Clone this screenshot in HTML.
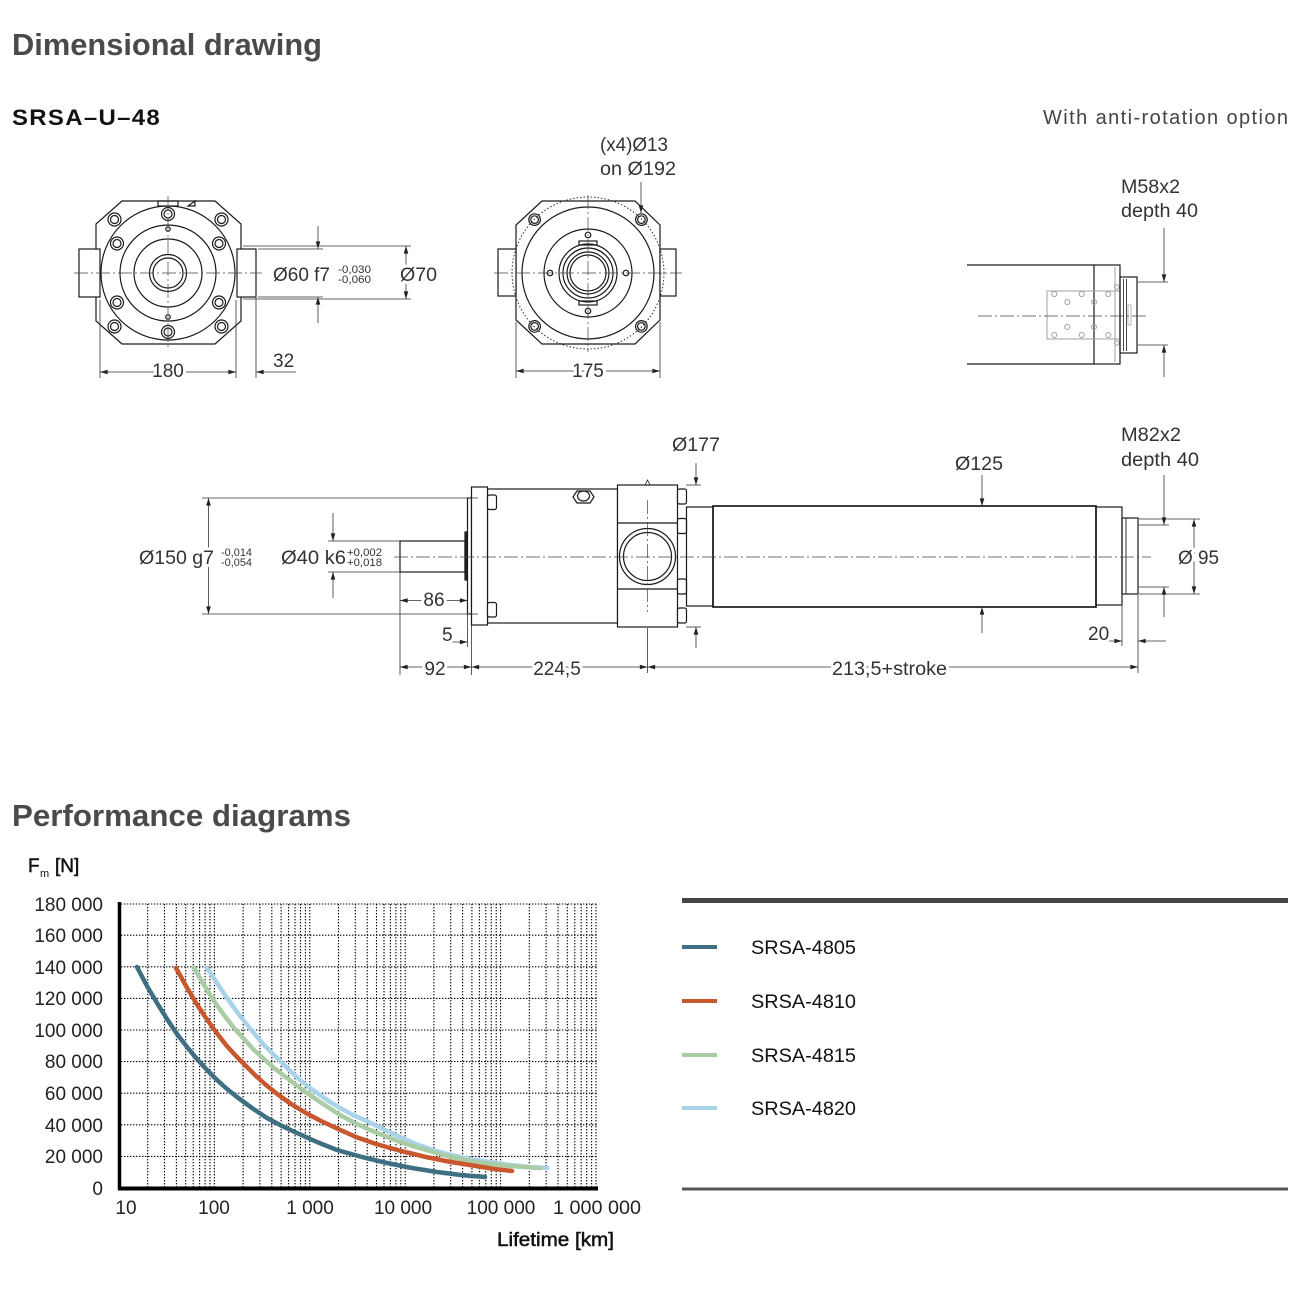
<!DOCTYPE html>
<html><head><meta charset="utf-8">
<style>
html,body{margin:0;padding:0;background:#fff;}
svg{display:block;}
text{font-family:"Liberation Sans",Arial,sans-serif;}
</style></head><body>
<svg width="1310" height="1291" viewBox="0 0 1310 1291" xmlns="http://www.w3.org/2000/svg">
<defs>
<marker id="ar" viewBox="0 0 10 6" refX="10" refY="3" markerWidth="8" markerHeight="4.6" markerUnits="userSpaceOnUse" orient="auto-start-reverse"><path d="M0,0L10,3L0,6z" fill="#222"/></marker>
<g id="dec" stroke="#000" stroke-width="1.1" stroke-dasharray="1.4 1.6" fill="none">
<line x1="147.7" y1="904" x2="147.7" y2="1188"/>
<line x1="164.5" y1="904" x2="164.5" y2="1188"/>
<line x1="176.4" y1="904" x2="176.4" y2="1188"/>
<line x1="185.7" y1="904" x2="185.7" y2="1188"/>
<line x1="193.2" y1="904" x2="193.2" y2="1188"/>
<line x1="199.6" y1="904" x2="199.6" y2="1188"/>
<line x1="205.1" y1="904" x2="205.1" y2="1188"/>
<line x1="210" y1="904" x2="210" y2="1188"/>
<line x1="214.4" y1="904" x2="214.4" y2="1188"/>
</g>
</defs>

<!-- Headings -->
<text x="12" y="55" font-size="31" font-weight="bold" fill="#4a4a4a" textLength="310" lengthAdjust="spacingAndGlyphs">Dimensional drawing</text>
<text x="12" y="125" font-size="22" font-weight="bold" fill="#111" letter-spacing="1.2" textLength="149" lengthAdjust="spacingAndGlyphs">SRSA–U–48</text>
<text x="1043" y="124" font-size="20" fill="#444" textLength="245" lengthAdjust="spacing">With anti-rotation option</text>
<text x="12" y="826" font-size="31" font-weight="bold" fill="#4a4a4a" textLength="339" lengthAdjust="spacingAndGlyphs">Performance diagrams</text>

<!-- ================= VIEW 1 ================= -->
<g fill="none" stroke="#1a1a1a" stroke-width="1.2">
<polygon points="122,201 215,201 241,224 241,321 215,344 122,344 96,321 96,224" fill="#fff"/>
<rect x="79" y="249" width="21" height="48" fill="#fff"/>
<rect x="237" y="249" width="19" height="48" fill="#fff"/>
<rect x="158" y="201" width="20" height="5"/>
<polygon points="188,206 195,201 195,206"/>
<circle cx="168" cy="273" r="67"/>
<circle cx="168" cy="273" r="48"/>
<circle cx="168" cy="273" r="34"/>
<circle cx="168" cy="273" r="18.5"/>
<circle cx="168" cy="273" r="15"/>
<g fill="#fff">
<circle cx="168" cy="214" r="6.5"/><circle cx="168" cy="332" r="6.5"/>
<circle cx="117" cy="243.5" r="6.5"/><circle cx="219" cy="243.5" r="6.5"/>
<circle cx="117" cy="302.5" r="6.5"/><circle cx="219" cy="302.5" r="6.5"/>
<circle cx="114.5" cy="219.5" r="6.5"/><circle cx="221.5" cy="219.5" r="6.5"/>
<circle cx="114.5" cy="326.5" r="6.5"/><circle cx="221.5" cy="326.5" r="6.5"/>
</g>
<circle cx="168" cy="214" r="4"/><circle cx="168" cy="332" r="4"/>
<circle cx="117" cy="243.5" r="4"/><circle cx="219" cy="243.5" r="4"/>
<circle cx="117" cy="302.5" r="4"/><circle cx="219" cy="302.5" r="4"/>
<circle cx="114.5" cy="219.5" r="4"/><circle cx="221.5" cy="219.5" r="4"/>
<circle cx="114.5" cy="326.5" r="4"/><circle cx="221.5" cy="326.5" r="4"/>
<circle cx="168" cy="229" r="2.3"/><circle cx="168" cy="317" r="2.3"/>
</g>

<!-- ================= VIEW 2 ================= -->
<g fill="none" stroke="#1a1a1a" stroke-width="1.2">
<polygon points="542,201 635,201 660,225 660,320 635,344 542,344 516,320 516,225" fill="#fff"/>
<rect x="498" y="249" width="18" height="47" fill="#fff"/>
<rect x="660" y="249" width="16" height="47" fill="#fff"/>
<circle cx="588" cy="273" r="76" stroke-width="0.9" stroke-dasharray="1.5 2"/>
<circle cx="588" cy="273" r="66"/>
<circle cx="588" cy="273" r="44"/>
<circle cx="588" cy="273" r="29"/>
<rect x="579" y="241" width="18" height="4"/>
<rect x="579" y="301" width="18" height="4"/>
<circle cx="588" cy="273" r="25"/>
<circle cx="588" cy="273" r="21"/>
<circle cx="588" cy="273" r="18"/>
<circle cx="588" cy="235" r="2.8"/><circle cx="550" cy="273" r="2.8"/>
<circle cx="626" cy="273" r="2.8"/><circle cx="588" cy="311" r="2.8"/>
<circle cx="534.6" cy="219.6" r="5.8"/><circle cx="641.4" cy="219.6" r="5.8"/>
<circle cx="534.6" cy="326.4" r="5.8"/><circle cx="641.4" cy="326.4" r="5.8"/>
<circle cx="534.6" cy="219.6" r="3.8"/><circle cx="641.4" cy="219.6" r="3.8"/>
<circle cx="534.6" cy="326.4" r="3.8"/><circle cx="641.4" cy="326.4" r="3.8"/>
</g>

<!-- ================= VIEW 3 ================= -->
<g fill="none" stroke="#1a1a1a" stroke-width="1.2">
<line x1="967" y1="265" x2="1094" y2="265"/>
<line x1="967" y1="364" x2="1094" y2="364"/>
<rect x="1094" y="265" width="26" height="99"/>
<line x1="1115" y1="267" x2="1115" y2="362" stroke="#999" stroke-width="0.9"/>
<rect x="1047" y="291" width="73" height="48" stroke="#a0a0a0" stroke-width="1"/>
<g stroke="#a0a0a0" stroke-width="1">
<circle cx="1054.3" cy="294" r="2.5"/><circle cx="1081.7" cy="294" r="2.5"/><circle cx="1108.3" cy="294" r="2.5"/>
<circle cx="1067.3" cy="302" r="2.5"/><circle cx="1094" cy="302" r="2.5"/>
<circle cx="1067.3" cy="327" r="2.5"/><circle cx="1094" cy="327" r="2.5"/>
<circle cx="1054.3" cy="335" r="2.5"/><circle cx="1081.7" cy="335" r="2.5"/><circle cx="1108.3" cy="335" r="2.5"/>
<circle cx="1116.7" cy="287" r="2.3"/><circle cx="1116.7" cy="343" r="2.3"/>
</g>
<rect x="1120" y="277" width="17" height="76"/>
<line x1="1123.5" y1="279" x2="1123.5" y2="351" stroke-width="0.8"/>
<line x1="1126.5" y1="279" x2="1126.5" y2="351" stroke-width="0.8"/>
<rect x="1128" y="305" width="3" height="20" stroke="#999" stroke-width="0.7"/>
</g>

<!-- ================= SIDE VIEW ================= -->
<g fill="none" stroke="#1a1a1a" stroke-width="1.2">
<rect x="400" y="541" width="65" height="31" fill="#fff"/>
<rect x="465" y="532" width="2.5" height="48" fill="#222"/>
<rect x="467.5" y="498" width="4" height="116" fill="#fff"/>
<rect x="487.5" y="489" width="130" height="134" fill="#fff"/>
<rect x="471.5" y="487" width="16" height="138" fill="#fff"/>
<rect x="487.5" y="495" width="9" height="14.5" rx="2" fill="#fff"/>
<rect x="487.5" y="602.5" width="9" height="14.5" rx="2" fill="#fff"/>
<path d="M573,497 L577,491 L590,491 L594,497 L590,503 L577,503Z" fill="#fff"/>
<ellipse cx="583.5" cy="496" rx="6" ry="5"/>
<rect x="617.5" y="485" width="60" height="142" fill="#fff"/>
<line x1="617.5" y1="523" x2="677.5" y2="523"/>
<line x1="617.5" y1="589" x2="677.5" y2="589"/>
<circle cx="647.5" cy="556.5" r="28"/>
<circle cx="647.5" cy="556.5" r="24"/>
<path d="M645,485 L647.5,480 L650,485" stroke-width="0.8"/>
<rect x="677.5" y="489" width="9" height="15" rx="2" fill="#fff"/>
<rect x="677.5" y="518.5" width="9" height="15" rx="2" fill="#fff"/>
<rect x="677.5" y="579" width="9" height="15" rx="2" fill="#fff"/>
<rect x="677.5" y="608" width="9" height="15" rx="2" fill="#fff"/>
<rect x="686.5" y="507" width="26.5" height="99"/>
<rect x="713" y="506" width="383" height="101" stroke-width="1.7"/>
<rect x="1096" y="507" width="26" height="98"/>
<rect x="1122" y="518" width="16" height="76"/>
<line x1="1126" y1="518" x2="1126" y2="594" stroke-width="0.9"/>
</g>

<!-- Centerlines -->
<g stroke="#444" stroke-width="0.7" stroke-dasharray="14 3 2 3" fill="none">
<line x1="74" y1="273" x2="262" y2="273"/>
<line x1="168" y1="196" x2="168" y2="350"/>
<line x1="494" y1="273" x2="682" y2="273"/>
<line x1="588" y1="195" x2="588" y2="352"/>
<line x1="978" y1="316" x2="1147" y2="316"/>
<line x1="394" y1="557" x2="1151" y2="557"/>
<line x1="647.5" y1="500" x2="647.5" y2="612"/>
</g>

<!-- Dimension lines -->
<g stroke="#333" stroke-width="0.8" fill="none">
<line x1="100" y1="300" x2="100" y2="378"/>
<line x1="236" y1="300" x2="236" y2="378"/>
<line x1="100" y1="372" x2="236" y2="372" marker-start="url(#ar)" marker-end="url(#ar)"/>
<line x1="256" y1="298" x2="256" y2="378"/>
<line x1="296" y1="372" x2="256" y2="372" marker-end="url(#ar)"/>
<line x1="258" y1="249" x2="323" y2="249"/>
<line x1="258" y1="297" x2="323" y2="297"/>
<line x1="318" y1="226" x2="318" y2="249" marker-end="url(#ar)"/>
<line x1="318" y1="323" x2="318" y2="297" marker-end="url(#ar)"/>
<line x1="243" y1="246" x2="411" y2="246"/>
<line x1="243" y1="299" x2="411" y2="299"/>
<line x1="406" y1="273" x2="406" y2="246" marker-end="url(#ar)"/>
<line x1="406" y1="273" x2="406" y2="299" marker-end="url(#ar)"/>
<line x1="516" y1="322" x2="516" y2="378"/>
<line x1="660" y1="322" x2="660" y2="378"/>
<line x1="516" y1="371" x2="660" y2="371" marker-start="url(#ar)" marker-end="url(#ar)"/>
<line x1="641" y1="182" x2="641" y2="213" marker-end="url(#ar)"/>
<line x1="1138" y1="282" x2="1168" y2="282"/>
<line x1="1138" y1="345" x2="1168" y2="345"/>
<line x1="1164" y1="228" x2="1164" y2="282" marker-end="url(#ar)"/>
<line x1="1164" y1="377" x2="1164" y2="345" marker-end="url(#ar)"/>
<line x1="202" y1="498" x2="478" y2="498"/>
<line x1="202" y1="614" x2="478" y2="614"/>
<line x1="208.5" y1="556" x2="208.5" y2="498" marker-end="url(#ar)"/>
<line x1="208.5" y1="556" x2="208.5" y2="614" marker-end="url(#ar)"/>
<line x1="328" y1="541" x2="400" y2="541"/>
<line x1="328" y1="572" x2="400" y2="572"/>
<line x1="333" y1="513" x2="333" y2="541" marker-end="url(#ar)"/>
<line x1="333" y1="598" x2="333" y2="572" marker-end="url(#ar)"/>
<line x1="400" y1="572" x2="400" y2="675"/>
<line x1="400" y1="600.5" x2="467.5" y2="600.5" marker-start="url(#ar)" marker-end="url(#ar)"/>
<line x1="467.5" y1="614" x2="467.5" y2="647"/>
<line x1="442" y1="642" x2="467.5" y2="642" marker-end="url(#ar)"/>
<line x1="471.5" y1="625" x2="471.5" y2="675"/>
<line x1="400" y1="667" x2="471.5" y2="667" marker-start="url(#ar)" marker-end="url(#ar)"/>
<line x1="471.5" y1="667" x2="647.5" y2="667" marker-start="url(#ar)" marker-end="url(#ar)"/>
<line x1="647.5" y1="628" x2="647.5" y2="673"/>
<line x1="647.5" y1="667" x2="1138" y2="667" marker-start="url(#ar)" marker-end="url(#ar)"/>
<line x1="686" y1="485" x2="701" y2="485"/>
<line x1="696" y1="463" x2="696" y2="485" marker-end="url(#ar)"/>
<line x1="686" y1="627" x2="701" y2="627"/>
<line x1="696" y1="648" x2="696" y2="627" marker-end="url(#ar)"/>
<line x1="982" y1="475" x2="982" y2="506" marker-end="url(#ar)"/>
<line x1="982" y1="633" x2="982" y2="607" marker-end="url(#ar)"/>
<line x1="1139" y1="519" x2="1200" y2="519"/>
<line x1="1139" y1="594" x2="1200" y2="594"/>
<line x1="1194" y1="557" x2="1194" y2="519" marker-end="url(#ar)"/>
<line x1="1194" y1="557" x2="1194" y2="594" marker-end="url(#ar)"/>
<line x1="1139" y1="525" x2="1169" y2="525"/>
<line x1="1139" y1="587" x2="1169" y2="587"/>
<line x1="1164" y1="475" x2="1164" y2="525" marker-end="url(#ar)"/>
<line x1="1164" y1="617" x2="1164" y2="587" marker-end="url(#ar)"/>
<line x1="1087" y1="641" x2="1122" y2="641" marker-end="url(#ar)"/>
<line x1="1122" y1="606" x2="1122" y2="646"/>
<line x1="1166" y1="641" x2="1138" y2="641" marker-end="url(#ar)"/>
<line x1="1138" y1="595" x2="1138" y2="673"/>
</g>

<!-- Drawing labels -->
<g font-size="19" fill="#333" stroke="#fff" stroke-width="6" stroke-linejoin="round" paint-order="stroke">
<text x="168" y="377" text-anchor="middle">180</text>
<text x="273" y="367">32</text>
<text x="273" y="281" textLength="57" lengthAdjust="spacingAndGlyphs">Ø60 f7</text>
<text x="400" y="281" textLength="37" lengthAdjust="spacingAndGlyphs">Ø70</text>
<text x="588" y="377" text-anchor="middle">175</text>
<text x="600" y="151" textLength="68" lengthAdjust="spacingAndGlyphs">(x4)Ø13</text>
<text x="600" y="175" textLength="76" lengthAdjust="spacingAndGlyphs">on Ø192</text>
<text x="1121" y="193" textLength="59" lengthAdjust="spacingAndGlyphs">M58x2</text>
<text x="1121" y="217" textLength="77" lengthAdjust="spacingAndGlyphs">depth 40</text>
<text x="672" y="451" textLength="48" lengthAdjust="spacingAndGlyphs">Ø177</text>
<text x="955" y="470" textLength="48" lengthAdjust="spacingAndGlyphs">Ø125</text>
<text x="1121" y="441" textLength="60" lengthAdjust="spacingAndGlyphs">M82x2</text>
<text x="1121" y="466" textLength="78" lengthAdjust="spacingAndGlyphs">depth 40</text>
<text x="139" y="564" textLength="75" lengthAdjust="spacingAndGlyphs">Ø150 g7</text>
<text x="281" y="564" textLength="65" lengthAdjust="spacingAndGlyphs">Ø40 k6</text>
<text x="1178" y="564" textLength="41" lengthAdjust="spacingAndGlyphs">Ø 95</text>
<text x="434" y="606" text-anchor="middle">86</text>
<text x="442" y="641">5</text>
<text x="435" y="675" text-anchor="middle">92</text>
<text x="557" y="675" text-anchor="middle">224,5</text>
<text x="832" y="675" textLength="115" lengthAdjust="spacingAndGlyphs">213,5+stroke</text>
<text x="1088" y="640">20</text>
</g>
<g font-size="11" fill="#333">
<text x="338" y="273" textLength="33" lengthAdjust="spacingAndGlyphs">-0,030</text>
<text x="338" y="283" textLength="33" lengthAdjust="spacingAndGlyphs">-0,060</text>
<text x="221" y="556" textLength="31" lengthAdjust="spacingAndGlyphs">-0,014</text>
<text x="221" y="566" textLength="31" lengthAdjust="spacingAndGlyphs">-0,054</text>
<text x="347" y="556" textLength="35" lengthAdjust="spacingAndGlyphs">+0,002</text>
<text x="347" y="566" textLength="35" lengthAdjust="spacingAndGlyphs">+0,018</text>
</g>

<!-- ================= CHART ================= -->
<g stroke="#000" stroke-width="1.1" stroke-dasharray="1.4 1.6" fill="none">
<line x1="121" y1="904" x2="598" y2="904"/>
<line x1="121" y1="935.2" x2="598" y2="935.2"/>
<line x1="121" y1="966.8" x2="598" y2="966.8"/>
<line x1="121" y1="998.4" x2="598" y2="998.4"/>
<line x1="121" y1="1030" x2="598" y2="1030"/>
<line x1="121" y1="1061.6" x2="598" y2="1061.6"/>
<line x1="121" y1="1093.2" x2="598" y2="1093.2"/>
<line x1="121" y1="1124.8" x2="598" y2="1124.8"/>
<line x1="121" y1="1156.4" x2="598" y2="1156.4"/>
</g>
<use href="#dec"/>
<use href="#dec" transform="translate(95.4,0)"/>
<use href="#dec" transform="translate(190.8,0)"/>
<use href="#dec" transform="translate(286.2,0)"/>
<use href="#dec" transform="translate(381.6,0)"/>

<g fill="none" stroke-width="4.5" stroke-linejoin="round" stroke-linecap="round">
<polyline stroke="#a9d3e8" points="207,968 217,983 227,998 240,1016 253,1032 264,1045 275,1056 287,1068 300,1080 310,1088 320,1095 330,1102 340,1108 353,1115 367,1121 383,1129 400,1137 416,1144 433,1150 451,1155 470,1159 490,1162 510,1165 528,1167 547,1168"/>
<polyline stroke="#aacca4" points="194,968 204,985 214,1001 224,1015 234,1028 244,1039 254,1050 264,1059 274,1068 287,1078 300,1088 320,1102 340,1115 355,1123 370,1130 385,1136 400,1142 416,1147 433,1152 451,1157 470,1161 490,1164 510,1166 540,1168"/>
<polyline stroke="#c9572e" points="176,968 186,986 196,1003 206,1018 216,1032 226,1045 236,1056 246,1066 256,1076 266,1085 276,1093 291,1104 306,1113 321,1121 336,1128 356,1137 376,1144 401,1151 426,1157 451,1162 476,1166 494,1169 512,1171"/>
<polyline stroke="#3e6f82" points="137,967 147,986 157,1003 167,1019 177,1034 187,1047 197,1059 207,1070 217,1080 227,1089 237,1097 252,1108 267,1118 282,1126 297,1133 317,1142 337,1150 362,1157 387,1163 412,1168 437,1172 461,1175 485,1177"/>
</g>

<line x1="119.5" y1="902" x2="119.5" y2="1190" stroke="#000" stroke-width="3.5"/>
<line x1="118" y1="1188.5" x2="598" y2="1188.5" stroke="#000" stroke-width="4"/>

<g font-size="19" fill="#222" text-anchor="end">
<text x="103" y="911">180 000</text>
<text x="103" y="942">160 000</text>
<text x="103" y="974">140 000</text>
<text x="103" y="1005">120 000</text>
<text x="103" y="1037">100 000</text>
<text x="103" y="1068">80 000</text>
<text x="103" y="1100">60 000</text>
<text x="103" y="1132">40 000</text>
<text x="103" y="1163">20 000</text>
<text x="103" y="1195">0</text>
</g>
<g font-size="19" fill="#222" text-anchor="middle">
<text x="126" y="1214">10</text>
<text x="214" y="1214">100</text>
<text x="310" y="1214">1 000</text>
<text x="403" y="1214">10 000</text>
<text x="501" y="1214">100 000</text>
<text x="597" y="1214" textLength="88" lengthAdjust="spacingAndGlyphs">1 000 000</text>
</g>
<text x="497" y="1246" font-size="19" fill="#111" stroke="#111" stroke-width="0.5" textLength="117" lengthAdjust="spacingAndGlyphs">Lifetime [km]</text>
<text x="28" y="872" font-size="19" fill="#111" stroke="#111" stroke-width="0.5">F</text>
<text x="40" y="877" font-size="11" fill="#111">m</text>
<text x="55" y="872" font-size="19" fill="#111" stroke="#111" stroke-width="0.5">[N]</text>

<!-- Legend -->
<line x1="682" y1="900.5" x2="1288" y2="900.5" stroke="#444" stroke-width="5"/>
<line x1="682" y1="1189" x2="1288" y2="1189" stroke="#555" stroke-width="3"/>
<g stroke-width="4">
<line x1="682" y1="947" x2="717" y2="947" stroke="#3e6f82"/>
<line x1="682" y1="1001" x2="717" y2="1001" stroke="#c9572e"/>
<line x1="682" y1="1055" x2="717" y2="1055" stroke="#aacca4"/>
<line x1="682" y1="1108" x2="717" y2="1108" stroke="#a9d3e8"/>
</g>
<g font-size="19" fill="#111">
<text x="751" y="954" textLength="105" lengthAdjust="spacingAndGlyphs">SRSA-4805</text>
<text x="751" y="1008" textLength="105" lengthAdjust="spacingAndGlyphs">SRSA-4810</text>
<text x="751" y="1062" textLength="105" lengthAdjust="spacingAndGlyphs">SRSA-4815</text>
<text x="751" y="1115" textLength="105" lengthAdjust="spacingAndGlyphs">SRSA-4820</text>
</g>
</svg>
</body></html>
